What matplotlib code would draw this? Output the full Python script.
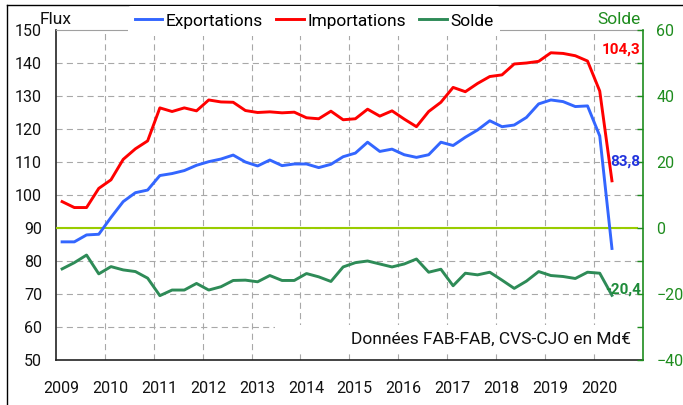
import numpy as np
import matplotlib
matplotlib.use("Agg")
import matplotlib.pyplot as plt
import matplotlib.transforms as mtransforms
from matplotlib.lines import Line2D
from matplotlib.patches import Rectangle

plt.rcParams["font.family"] = ["Roboto", "DejaVu Sans"]

# --- Données trimestrielles 2009T1 -> 2020T2 (Md€, CVS-CJO) ---
years = [2009, 2010, 2011, 2012, 2013, 2014, 2015, 2016, 2017, 2018, 2019, 2020]
exportations = [
    85.8, 85.8, 87.9, 88.1, 93.2, 98.0, 100.7, 101.5,
    105.9, 106.5, 107.4, 109.0, 110.1, 110.9, 112.1, 110.0,
    108.8, 110.6, 108.9, 109.4, 109.4, 108.3, 109.3, 111.6,
    112.7, 116.0, 113.2, 113.9, 112.2, 111.4, 112.2, 116.0,
    115.0, 117.5, 119.7, 122.5, 120.7, 121.2, 123.5, 127.6,
    128.8, 128.3, 126.8, 127.0, 117.9, 83.8,
]
importations = [
    98.0, 96.2, 96.2, 102.0, 104.6, 110.8, 114.0, 116.4,
    126.4, 125.3, 126.4, 125.5, 128.8, 128.2, 128.1, 125.6,
    125.0, 125.2, 124.9, 125.1, 123.4, 123.1, 125.4, 122.8,
    123.1, 126.0, 123.9, 125.5, 123.0, 120.7, 125.3, 128.1,
    132.6, 131.3, 133.8, 135.9, 136.4, 139.7, 140.0, 140.5,
    143.1, 142.9, 142.2, 140.6, 131.5, 104.3,
]
solde = [
    -12.4, -10.5, -8.2, -13.9, -11.7, -12.7, -13.2, -15.2,
    -20.5, -18.8, -18.8, -16.8, -18.8, -17.8, -15.9, -15.8,
    -16.3, -14.4, -15.9, -15.9, -13.8, -14.8, -16.2, -11.8,
    -10.5, -10.0, -10.9, -11.8, -10.9, -9.4, -13.4, -12.5,
    -17.5, -13.7, -14.2, -13.4, -15.8, -18.3, -16.1, -13.2,
    -14.4, -14.7, -15.3, -13.4, -13.7, -20.4,
]

# milieu de chaque trimestre
x = years[0] + (np.arange(len(exportations)) + 0.5) / 4

col_exp = "#3366FF"
col_imp = "#FF0000"
col_sol = "#2E8B57"
col_right = "#1E8C1E"

fig = plt.figure(figsize=(6.83, 4.05), dpi=100)
ax = fig.add_axes([56 / 683, 1 - 360 / 405, 586.5 / 683, 330 / 405])
ax2 = ax.twinx()

# --- axe gauche : flux ---
ax.set_xlim(2009, 2021)
ax.set_ylim(50, 150)
ax.set_yticks(np.arange(50, 151, 10))
ax.set_xticks(years)
ax.tick_params(axis="both", length=0, labelsize=11.5, colors="#111111")
ax.tick_params(axis="y", pad=10)
ax.tick_params(axis="x", pad=15)
offset = mtransforms.ScaledTranslation(5.5 / 100, 0, fig.dpi_scale_trans)
for lab in ax.get_xticklabels():
    lab.set_transform(lab.get_transform() + offset)

grid_kw = dict(color="#A8A8A8", linewidth=0.8, dashes=(5.5, 3.8))
for v in np.arange(60, 150, 10):
    ax.axhline(v, zorder=0, **grid_kw)
for yr in years[1:]:
    ax.axvline(yr, zorder=0, **grid_kw)

ax.spines["left"].set_color("#222222")
ax.spines["bottom"].set_color("#222222")
ax.spines["left"].set_linewidth(1.2)
ax.spines["bottom"].set_linewidth(1.2)
ax.spines["top"].set_color("#A0A0A0")
ax.spines["top"].set_linewidth(0.8)
ax.spines["right"].set_visible(False)

# cadre blanc sous la note
ax.add_patch(Rectangle((0.373, 0.024), 0.623, 0.082, transform=ax.transAxes,
                       facecolor="white", edgecolor="none", zorder=1))
ax.text(0.980, 0.063, "Données FAB-FAB, CVS-CJO en Md€", transform=ax.transAxes,
        ha="right", va="center", fontsize=12.5, color="#111111", zorder=2)

# --- axe droit : solde ---
ax2.set_ylim(-40, 60)
ax2.set_yticks(np.arange(-40, 61, 20))
ax2.set_yticks(np.arange(-40, 61, 10), minor=True)
ax2.tick_params(axis="y", which="both", direction="in", length=4, width=1,
                color=col_right, labelcolor=col_right, labelsize=11.5, pad=10)
ax2.tick_params(axis="y", which="minor", labelright=False)
for side in ["left", "top", "bottom"]:
    ax2.spines[side].set_visible(False)
ax2.spines["right"].set_color(col_right)
ax2.spines["right"].set_linewidth(1.2)
ax2.axhline(0, color="#99CC00", linewidth=1.5, xmax=0.99, zorder=1)

# --- séries ---
l1, = ax2.plot(x, np.array(exportations) - 90, color=col_exp, linewidth=2.1, zorder=5)
l2, = ax2.plot(x, np.array(importations) - 90, color=col_imp, linewidth=2.1, zorder=5)
l3, = ax2.plot(x, solde, color=col_sol, linewidth=2.1, zorder=5)

def fr(v):
    return ("%.1f" % v).replace(".", ",")

ax2.text(0.997, 0.942, fr(importations[-1]), transform=ax2.transAxes, ha="right",
         va="center", fontsize=11, fontweight="bold", color=col_imp, zorder=6)
ax2.text(0.997, 0.600, fr(exportations[-1]), transform=ax2.transAxes, ha="right",
         va="center", fontsize=11, fontweight="bold", color="#2233DD", zorder=6)
ax2.text(0.997, 0.212, fr(solde[-1]), transform=ax2.transAxes, ha="right",
         va="center", fontsize=11, fontweight="bold", color="#1E8B3A", zorder=6)

# --- légende et titres d'axes ---
leg = fig.legend([l1, l2, l3], ["Exportations", "Importations", "Solde"],
                 loc="center", bbox_to_anchor=(314 / 683, 1 - 21 / 405), ncol=3,
                 fontsize=12.5, frameon=True, facecolor="white", edgecolor="none",
                 framealpha=1, handlelength=1.6, handletextpad=0.2,
                 columnspacing=0.75, borderpad=0.4)
leg.set_zorder(10)

fig.text(40 / 683, 1 - 19 / 405, "Flux", ha="left", va="center", fontsize=12.5,
         color="#111111")
fig.text(641 / 683, 1 - 19 / 405, "Solde", ha="right", va="center", fontsize=12.5,
         color=col_right)

# cadre extérieur
fig.add_artist(Line2D([7 / 683, 7 / 683], [0, 1 - 5 / 405], transform=fig.transFigure,
                      color="black", linewidth=1))
fig.add_artist(Line2D([7 / 683, 1], [1 - 5 / 405, 1 - 5 / 405], transform=fig.transFigure,
                      color="black", linewidth=1))

fig.savefig("out.png", dpi=100)
